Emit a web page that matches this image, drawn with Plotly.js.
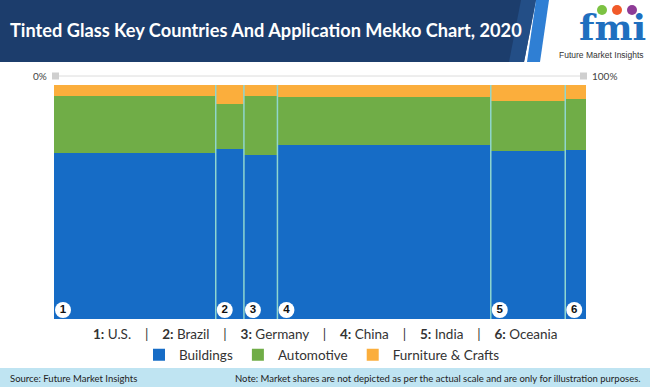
<!DOCTYPE html>
<html>
<head>
<meta charset="utf-8">
<script src="https://cdn.plot.ly/plotly-3.0.1.min.js"></script>
<style>html,body{margin:0;padding:0;background:#fff;}#chart{width:650px;height:387px;}</style>
</head>
<body>
<div id="chart"></div>
<script>
// ---- data ----
var countries = ["U.S.", "Brazil", "Germany", "China", "India", "Oceania"];
var countryNumbers = ["1", "2", "3", "4", "5", "6"];
var countryWidths = [30.4, 5.3, 6.3, 40.1, 14.0, 3.9];   // share of total (%)
var buildings  = [71.1, 72.5, 70.0, 74.2, 71.9, 72.2];
var automotive = [24.2, 19.4, 25.3, 20.5, 21.4, 21.9];
var furniture  = [4.7, 8.1, 4.7, 5.3, 6.7, 5.9];
var seriesNames = ["Buildings", "Automotive", "Furniture & Crafts"];
var seriesColors = ["#166cc6", "#70ad47", "#fbae3c"];

// ---- layout geometry ----
var W = 650, H = 387;
var M = {l: 54, r: 64, t: 85, b: 68};
var pw = W - M.l - M.r, ph = H - M.t - M.b;
function px(x) { return (x - M.l) / pw; }
function py(y) { return (H - M.b - y) / ph; }

var lefts = [], mids = [], acc = 0;
countryWidths.forEach(function (w) { lefts.push(acc); mids.push(acc + w / 2); acc += w; });

var seriesValues = [buildings, automotive, furniture];
var traces = seriesValues.map(function (vals, i) {
  return {
    type: "bar", x: mids, y: vals, width: countryWidths,
    name: seriesNames[i], marker: {color: seriesColors[i], line: {width: 0}},
    hoverinfo: "skip"
  };
});
var unitPerPx = 100 / pw;
traces.push({
  type: "scatter", mode: "markers+text",
  x: lefts.map(function (l) { return l + 9 * unitPerPx; }),
  y: lefts.map(function () { return 9 * 100 / ph; }),
  text: countryNumbers.map(function (n) { return "<b>" + n + "</b>"; }),
  textposition: "middle center",
  textfont: {family: "'Liberation Sans', sans-serif", size: 11.5, color: "#111"},
  marker: {color: "#ffffff", size: 16, line: {width: 0}},
  showlegend: false, hoverinfo: "skip", cliponaxis: false
});

var shapes = [];
// separators between columns
for (var i = 1; i < lefts.length; i++) {
  shapes.push({type: "line", xref: "x", yref: "y", x0: lefts[i], x1: lefts[i], y0: 0, y1: 100,
    line: {color: "#8fd6cf", width: 1.5}});
}
// header band
shapes.push({type: "path", xref: "paper", yref: "paper",
  path: "M " + px(0) + " " + py(0) + " L " + px(536) + " " + py(0) + " L " + px(524) + " " + py(62) + " L " + px(0) + " " + py(62) + " Z",
  fillcolor: "#1c3d6c", line: {width: 0}, layer: "below"});
shapes.push({type: "path", xref: "paper", yref: "paper",
  path: "M " + px(521) + " " + py(0) + " L " + px(536) + " " + py(0) + " L " + px(524) + " " + py(62) + " L " + px(509) + " " + py(62) + " Z",
  fillcolor: "#234e86", line: {width: 0}, layer: "below"});
shapes.push({type: "path", xref: "paper", yref: "paper",
  path: "M " + px(536) + " " + py(0) + " L " + px(549) + " " + py(0) + " L " + px(540) + " " + py(62) + " L " + px(527) + " " + py(62) + " Z",
  fillcolor: "#2f7fd4", line: {width: 0}, layer: "below"});
// footer band
shapes.push({type: "rect", xref: "paper", yref: "paper",
  x0: px(0), x1: px(W), y0: py(H), y1: py(368), fillcolor: "#bfe4f2", line: {width: 0}, layer: "below"});
// top scale
shapes.push({type: "line", xref: "paper", yref: "paper", x0: px(59), x1: px(580), y0: py(76), y1: py(76),
  line: {color: "#dcdcdc", width: 1}});
shapes.push({type: "rect", xref: "paper", yref: "paper", x0: px(52), x1: px(59), y0: py(72.5), y1: py(79.5),
  fillcolor: "#cfcfcf", line: {width: 0}});
shapes.push({type: "rect", xref: "paper", yref: "paper", x0: px(580), x1: px(587), y0: py(72.5), y1: py(79.5),
  fillcolor: "#cfcfcf", line: {width: 0}});
// logo dots
[["#7cc242", 602], ["#f15a29", 617], ["#8e3b96", 632]].forEach(function (d) {
  shapes.push({type: "circle", xref: "paper", yref: "paper",
    x0: px(d[1] - 5), x1: px(d[1] + 5), y0: py(15), y1: py(5), fillcolor: d[0], line: {width: 0}});
});

var F = "Lato, 'Liberation Sans', sans-serif";
var sep = "\u00a0\u00a0\u00a0\u00a0|\u00a0\u00a0\u00a0\u00a0";
var legendRow = countries.map(function (c, i) { return "<b>" + countryNumbers[i] + ":</b> " + c; }).join(sep);

var annotations = [
  {text: "<b>Tinted Glass Key Countries And Application Mekko Chart, 2020</b>", xref: "paper", yref: "paper",
   x: px(8), y: py(30), xanchor: "left", yanchor: "middle", showarrow: false,
   font: {family: F, size: 18.2, color: "#ffffff"}},
  {text: "0%", xref: "paper", yref: "paper", x: px(49), y: py(76), xanchor: "right", yanchor: "middle",
   showarrow: false, font: {family: F, size: 10, color: "#444"}},
  {text: "100%", xref: "paper", yref: "paper", x: px(590), y: py(76), xanchor: "left", yanchor: "middle",
   showarrow: false, font: {family: F, size: 10, color: "#444"}},
  {text: legendRow, xref: "paper", yref: "paper", x: px(325), y: py(334), xanchor: "center", yanchor: "middle",
   showarrow: false, font: {family: F, size: 13.5, color: "#333"}},
  {text: "Source: Future Market Insights", xref: "paper", yref: "paper", x: px(8), y: py(378),
   xanchor: "left", yanchor: "middle", showarrow: false, font: {family: F, size: 9.5, color: "#222"}},
  {text: "Note: Market shares are not depicted as per the actual scale and are only for illustration purposes.",
   xref: "paper", yref: "paper", x: px(643), y: py(378), xanchor: "right", yanchor: "middle",
   showarrow: false, font: {family: F, size: 9.5, color: "#222"}},
  {text: "<b>fmi</b>", xref: "paper", yref: "paper", x: px(612), y: py(27), xanchor: "center", yanchor: "middle",
   showarrow: false, font: {family: "'DejaVu Serif', serif", size: 36, color: "#1f6fbf"}},
  {text: "Future Market Insights", xref: "paper", yref: "paper", x: px(601), y: py(55), xanchor: "center",
   yanchor: "middle", showarrow: false, font: {family: "'Liberation Sans', sans-serif", size: 8.5, color: "#333"}}
];

var layout = {
  width: W, height: H, margin: M, paper_bgcolor: "#ffffff", plot_bgcolor: "#ffffff",
  barmode: "stack", bargap: 0,
  xaxis: {range: [0, 100], showgrid: false, zeroline: false, showticklabels: false, ticks: "", fixedrange: true},
  yaxis: {range: [0, 100], showgrid: false, zeroline: false, showticklabels: false, ticks: "", fixedrange: true},
  showlegend: true,
  legend: {orientation: "h", traceorder: "normal", x: px(322), xanchor: "center", y: py(355), yanchor: "middle",
           font: {family: F, size: 13.5, color: "#333"}, itemwidth: 30, tracegroupgap: 0,
           bgcolor: "rgba(0,0,0,0)"},
  shapes: shapes, annotations: annotations
};

Plotly.newPlot("chart", traces, layout, {displayModeBar: false, staticPlot: true});
</script>
</body>
</html>
